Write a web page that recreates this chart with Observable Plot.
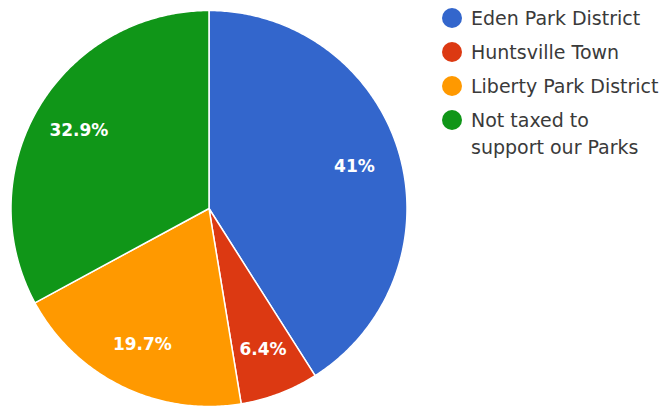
<!DOCTYPE html>
<html>
<head>
<meta charset="utf-8">
<script src="https://cdn.jsdelivr.net/npm/d3@7"></script>
<script src="https://cdn.jsdelivr.net/npm/@observablehq/plot@0.6"></script>
<style>
  html, body { margin: 0; padding: 0; background: #fff; }
  #wrap { position: relative; width: 659px; height: 407px; overflow: hidden; }
  #chart { position: absolute; left: 0; top: 0; }
  .legend { position: absolute; left: 442px; top: 0; font-family: "DejaVu Sans", Verdana, sans-serif; font-size: 19px; color: #3a3a3a; }
  .item { position: absolute; left: 0; display: flex; align-items: flex-start; white-space: nowrap; }
  .sw { width: 20px; height: 20px; border-radius: 50%; margin-right: 9px; flex: none; }
  .lbl { line-height: 27px; margin-top: -3.5px; }
</style>
</head>
<body>
<div id="wrap">
  <div id="chart"></div>
  <div class="legend" id="legend"></div>
</div>
<script>
const categories = ["Eden Park District", "Huntsville Town", "Liberty Park District", "Not taxed to support our Parks"];
const legendLines = [["Eden Park District"], ["Huntsville Town"], ["Liberty Park District"], ["Not taxed to", "support our Parks"]];
const values = [41, 6.4, 19.7, 32.9];
const valueLabels = ["41%", "6.4%", "19.7%", "32.9%"];
const colors = ["#3366cc", "#dc3912", "#ff9900", "#109618"];

// Build slice outlines (unit circle geometry) from the values via d3.pie
const arcs = d3.pie().sort(null).value((d) => d.value)(categories.map((c, i) => ({cat: c, value: values[i], label: valueLabels[i]})));
const slicePts = [];
const labelPts = [];
for (const a of arcs) {
  const cat = a.data.cat;
  slicePts.push({cat, x: 0, y: 0});
  const n = Math.max(4, Math.ceil((a.endAngle - a.startAngle) / 0.01));
  for (let k = 0; k <= n; k++) {
    const t = a.startAngle + (a.endAngle - a.startAngle) * k / n;
    slicePts.push({cat, x: Math.sin(t), y: Math.cos(t)});
  }
  slicePts.push({cat, x: 0, y: 0});
  const m = (a.startAngle + a.endAngle) / 2;
  labelPts.push({cat, label: a.data.label, x: 0.765 * Math.sin(m), y: 0.765 * Math.cos(m)});
}

const plot = Plot.plot({
  width: 659,
  height: 407,
  margin: 0,
  x: {domain: [-1, 1], range: [10.5, 406.5], axis: null},
  y: {domain: [-1, 1], range: [406, 10], axis: null},
  color: {type: "ordinal", domain: categories, range: colors},
  style: {background: "#fff"},
  marks: [
    Plot.line(slicePts, {x: "x", y: "y", z: "cat", fill: "cat", stroke: "#fff", strokeWidth: 1.5, strokeLinejoin: "round"}),
    Plot.text(labelPts, {x: "x", y: "y", text: "label", fill: "#fff", fontSize: 17, fontWeight: "bold", fontFamily: "DejaVu Sans, sans-serif"})
  ]
});
document.getElementById("chart").appendChild(plot);

const legend = document.getElementById("legend");
const tops = [8, 42, 76, 110];
categories.forEach((c, i) => {
  const item = document.createElement("div");
  item.className = "item";
  item.style.top = tops[i] + "px";
  const sw = document.createElement("div");
  sw.className = "sw";
  sw.style.background = colors[i];
  const lbl = document.createElement("div");
  lbl.className = "lbl";
  lbl.innerHTML = legendLines[i].join("<br>");
  item.appendChild(sw);
  item.appendChild(lbl);
  legend.appendChild(item);
});
</script>
</body>
</html>
